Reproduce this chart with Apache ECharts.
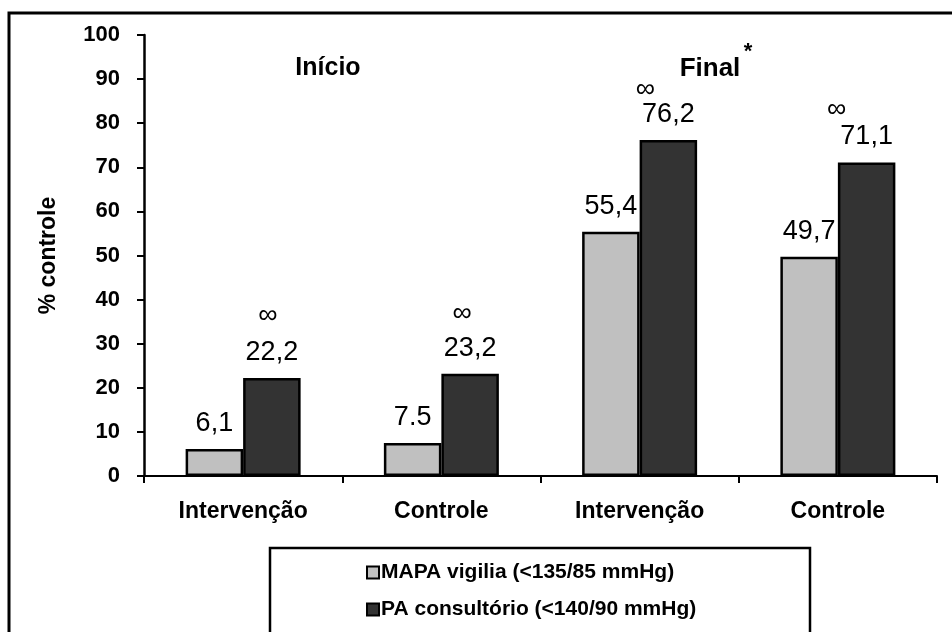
<!DOCTYPE html>
<html><head><meta charset="utf-8">
<script src="https://cdn.jsdelivr.net/npm/echarts@6/dist/echarts.min.js"></script>
<style>html,body{margin:0;padding:0;background:#fff}#c{width:952px;height:632px}</style>
</head><body><div id="c"></div>
<script>
// ---- data ----
const categories = ['Intervenção', 'Controle', 'Intervenção', 'Controle'];
const mapaValues = [6.1, 7.5, 55.4, 49.7];
const paValues = [22.2, 23.2, 76.2, 71.1];
const mapaLabels = ['6,1', '7.5', '55,4', '49,7'];
const paLabels = ['22,2', '23,2', '76,2', '71,1'];
const seriesNames = ['MAPA vigilia (<135/85 mmHg)', 'PA consultório (<140/90 mmHg)'];
const groupTitles = ['Início', 'Final'];
const infMark = '∞';
// annotation placement (style, not data)
const infShiftX = [4, 8, 23, 30];
const infGapY = [37, 35, 25, 27];

const FF = '"Liberation Sans", Arial, sans-serif';
const VAL_LH = 27;

const chart = echarts.init(document.getElementById('c'), null, {renderer: 'canvas'});

const paData = paValues.map((v, i) => ({
  value: v,
  label: {
    rich: {
      inf: {
        fontSize: 27, fontFamily: FF, color: '#000',
        lineHeight: 2 * (infGapY[i] - VAL_LH / 2),
        padding: [0, 2 * infShiftX[i], 0, 0]
      }
    }
  }
}));

const option = {
  backgroundColor: '#fff',
  animation: false,
  grid: {left: 144, right: 15, top: 35, bottom: 156, containLabel: false},
  xAxis: {
    type: 'category',
    data: categories,
    axisLine: {lineStyle: {color: '#000', width: 2}},
    axisTick: {show: true, length: 7, lineStyle: {color: '#000', width: 2}},
    axisLabel: {color: '#000', fontFamily: FF, fontWeight: 'bold', fontSize: 23, margin: 24},
    splitLine: {show: false}
  },
  yAxis: {
    type: 'value',
    min: 0, max: 100, interval: 10,
    name: '% controle',
    nameLocation: 'middle',
    nameGap: 84,
    nameRotate: 90,
    nameTextStyle: {color: '#000', fontFamily: FF, fontWeight: 'bold', fontSize: 23},
    axisLine: {show: true, lineStyle: {color: '#000', width: 2.5}},
    axisTick: {show: true, length: 7, lineStyle: {color: '#000', width: 2}},
    axisLabel: {color: '#000', fontFamily: FF, fontWeight: 'bold', fontSize: 22, margin: 24},
    splitLine: {show: false}
  },
  legend: {
    orient: 'vertical',
    left: 366, top: 562,
    padding: 0,
    itemWidth: 12, itemHeight: 12, itemGap: 16,
    icon: 'rect',
    align: 'left',
    textStyle: {color: '#000', fontFamily: FF, fontWeight: 'bold', fontSize: 21, padding: [0, 0, 0, -3]},
    data: seriesNames
  },
  series: [
    {
      name: seriesNames[0],
      type: 'bar',
      data: mapaValues,
      barGap: '0%',
      barCategoryGap: '42%',
      itemStyle: {color: '#c0c0c0', borderColor: '#000', borderWidth: 2.5},
      label: {
        show: true, position: 'top', distance: 12,
        color: '#000', fontFamily: FF, fontSize: 27, lineHeight: VAL_LH,
        formatter: p => mapaLabels[p.dataIndex]
      }
    },
    {
      name: seriesNames[1],
      type: 'bar',
      data: paData,
      barGap: '0%',
      barCategoryGap: '42%',
      itemStyle: {color: '#333333', borderColor: '#000', borderWidth: 2.5},
      label: {
        show: true, position: 'top', distance: 12,
        color: '#000', fontFamily: FF, fontSize: 27, lineHeight: VAL_LH,
        formatter: p => '{inf|' + infMark + '}\n{val|' + paLabels[p.dataIndex] + '}',
        rich: {
          val: {fontSize: 27, fontFamily: FF, color: '#000', lineHeight: VAL_LH}
        }
      }
    }
  ],
  graphic: [
    {type: 'rect', silent: true, z: -1,
     shape: {x: 9, y: 13, width: 980, height: 660},
     style: {fill: 'none', stroke: '#000', lineWidth: 3}},
    {type: 'rect', silent: true, z: -1,
     shape: {x: 270, y: 548, width: 540, height: 120},
     style: {fill: 'none', stroke: '#000', lineWidth: 2.5}},
    {type: 'text', silent: true,
     style: {x: 328, y: 68, text: groupTitles[0], textAlign: 'center', textVerticalAlign: 'middle',
             fontFamily: FF, fontWeight: 'bold', fontSize: 25, fill: '#000'}},
    {type: 'text', silent: true,
     style: {x: 710, y: 69, text: groupTitles[1], textAlign: 'center', textVerticalAlign: 'middle',
             fontFamily: FF, fontWeight: 'bold', fontSize: 26, fill: '#000'}},
    {type: 'text', silent: true,
     style: {x: 748, y: 52, text: '*', textAlign: 'center', textVerticalAlign: 'middle',
             fontFamily: FF, fontWeight: 'bold', fontSize: 22, fill: '#000'}}
  ]
};
chart.setOption(option);
</script>
</body></html>
